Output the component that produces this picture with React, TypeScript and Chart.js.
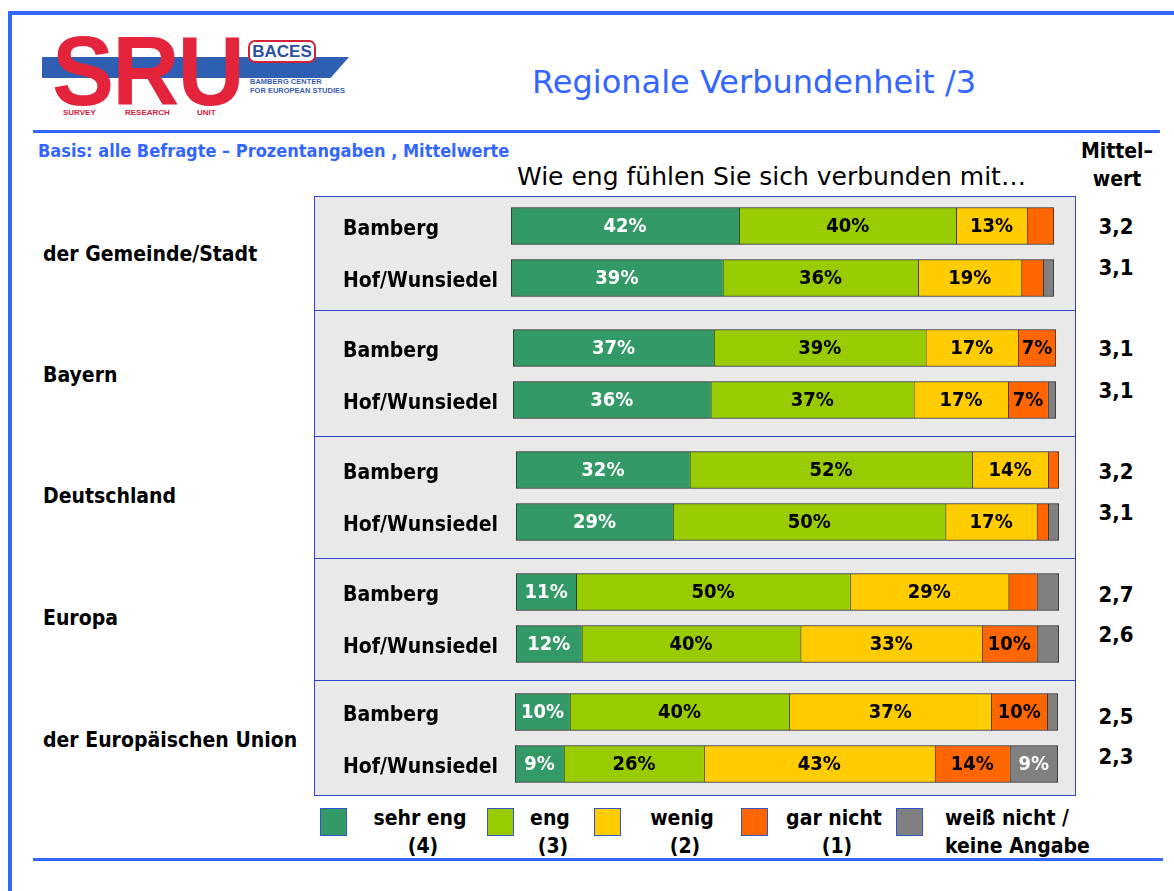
import React, { useEffect, useRef } from "react";
import { Chart, registerables } from "chart.js";

Chart.register(...registerables);

// ---------- data ----------
const groupLabels = ["der Gemeinde/Stadt", "Bayern", "Deutschland", "Europa", "der Europäischen Union"];
const rowLabels = ["Bamberg", "Hof/Wunsiedel"];
const seriesLabels = ["sehr eng", "eng", "wenig", "gar nicht", "weiß nicht /"];
const seriesSubLabels = ["(4)", "(3)", "(2)", "(1)", "keine Angabe"];

// order: Gemeinde Bamberg, Gemeinde Hof, Bayern Bamberg, Bayern Hof, Deutschland B, Deutschland H, Europa B, Europa H, EU B, EU H
const sehrEng = [42, 39, 37, 36.4, 32, 28.9, 11.1, 12.1, 10.1, 9];
const eng = [40, 36, 39, 37.4, 52, 50.2, 50.4, 40.3, 40.4, 25.8];
const wenig = [13, 19, 17, 17.4, 14, 16.8, 29.2, 33.4, 37.2, 42.5];
const garNicht = [5, 4, 7, 7.3, 2, 2.1, 5.2, 10.1, 10.3, 13.8];
const weissNicht = [0, 2, 0, 1.5, 0, 2, 4.1, 4.1, 2.0, 8.9];
const mittelwerte = [3.2, 3.1, 3.1, 3.1, 3.2, 3.1, 2.7, 2.6, 2.5, 2.3];

const seriesValues = [sehrEng, eng, wenig, garNicht, weissNicht];

// ---------- styles ----------
const FONT = "'DejaVu Sans Condensed', 'DejaVu Sans', sans-serif";
const WIDE = "'DejaVu Sans', sans-serif";
const BLUE = "#3366ff";
const seriesColors = ["#339966", "#99cc00", "#ffcc00", "#ff6600", "#808080"];
const labelColors = ["#ffffff", "#000000", "#000000", "#000000", "#ffffff"];
const chartTops = [200, 322, 444, 566, 686];
const axisWidths = [168, 170, 173, 173, 172];
const chartLeft = 343;
const panelDividers = [310, 436, 558, 680];
const groupLabelY = [255, 376, 497, 619, 741];
const meanY = [227, 268, 349, 391, 472, 513, 595, 635, 717, 757];
const legendBoxX = [320, 487, 594, 741, 896];
const legendTextX = [420, 550, 682, 834, 945];

const segLabelPlugin = {
  id: "segLabels",
  afterDatasetsDraw(chart: any) {
    const ctx = chart.ctx;
    ctx.save();
    chart.data.datasets.forEach((ds: any, di: number) => {
      const meta = chart.getDatasetMeta(di);
      meta.data.forEach((bar: any, i: number) => {
        const v = ds.data[i];
        if (Math.round(v) < 6) return;
        const p = bar.getProps(["x", "y", "base"], true);
        ctx.fillStyle = labelColors[di];
        ctx.font = `bold 20px ${FONT}`;
        ctx.textAlign = "center";
        ctx.textBaseline = "middle";
        ctx.fillText(Math.round(v) + "%", (p.x + p.base) / 2, p.y + 1);
      });
    });
    ctx.restore();
  },
};

function GroupChart({ g }: { g: number }) {
  const ref = useRef<HTMLCanvasElement>(null);
  useEffect(() => {
    if (!ref.current) return;
    const idx = [g * 2, g * 2 + 1];
    const lastNonZero = idx.map((r) => {
      let last = 0;
      seriesValues.forEach((s, si) => {
        if (s[r] > 0) last = si;
      });
      return last;
    });
    const chart = new Chart(ref.current, {
      type: "bar",
      data: {
        labels: rowLabels,
        datasets: seriesValues.map((s, si) => ({
          label: seriesLabels[si],
          data: idx.map((r) => s[r]),
          backgroundColor: seriesColors[si],
          borderColor: "#222222",
          borderWidth: (c: any) => ({
            top: 1,
            bottom: 1,
            left: 1,
            right: lastNonZero[c.dataIndex] === si ? 1 : 0,
          }),
          borderSkipped: false,
          barThickness: 37,
        })),
      },
      options: {
        indexAxis: "y",
        responsive: false,
        animation: false,
        layout: { padding: 0 },
        plugins: { legend: { display: false }, tooltip: { enabled: false } },
        scales: {
          x: { stacked: true, min: 0, max: 100, display: false },
          y: {
            stacked: true,
            grid: { display: false },
            border: { display: false },
            ticks: {
              crossAlign: "far",
              labelOffset: 4,
              color: "#000",
              font: { family: FONT, size: 21, weight: "bold" },
            },
            afterFit: (scale: any) => {
              scale.width = axisWidths[g];
              scale.paddingTop = 0;
              scale.paddingBottom = 0;
            },
          },
        },
      } as any,
      plugins: [segLabelPlugin],
    });
    return () => chart.destroy();
  }, [g]);
  return (
    <canvas
      ref={ref}
      width={axisWidths[g] + 543}
      height={104}
      style={{ position: "absolute", left: chartLeft, top: chartTops[g], width: axisWidths[g] + 543, height: 104 }}
    />
  );
}

function Txt({ x, y, size, children, color = "#000", weight = "bold", anchor = "left", family = FONT, extra = {} }: any) {
  const style: any = {
    position: "absolute",
    top: y - size * 0.65,
    height: size * 1.3,
    lineHeight: size * 1.3 + "px",
    fontSize: size,
    fontFamily: family,
    fontWeight: weight,
    color,
    whiteSpace: "nowrap",
    ...extra,
  };
  style.left = x;
  if (anchor !== "left") style.transform = "translateX(-50%)";
  return <div style={style}>{children}</div>;
}

const logoFont = "'Liberation Sans', Arial, sans-serif";

export default function App() {
  return (
    <div style={{ position: "absolute", left: 0, top: 0, width: 1174, height: 891, background: "#fff", overflow: "hidden", fontFamily: FONT }}>
      {/* frame lines */}
      <div style={{ position: "absolute", left: 8, top: 11, width: 1166, height: 4, background: BLUE }} />
      <div style={{ position: "absolute", left: 8, top: 11, width: 4, height: 880, background: BLUE }} />
      <div style={{ position: "absolute", left: 33, top: 130, width: 1127, height: 3, background: BLUE }} />
      <div style={{ position: "absolute", left: 33, top: 858, width: 1130, height: 3, background: BLUE }} />

      {/* logo */}
      <div style={{ position: "absolute", left: 42, top: 57, width: 307, height: 21, background: "#2f5fb3", clipPath: "polygon(0 0, 100% 0, 94% 100%, 0 100%)" }} />
      <div style={{ position: "absolute", left: 52, top: 22, fontFamily: logoFont, fontWeight: "bold", fontSize: 98, lineHeight: "98px", color: "#e3243b", transform: "scaleX(0.95)", transformOrigin: "left top", letterSpacing: -2 }}>SRU</div>
      <div style={{ position: "absolute", left: 248, top: 40, width: 64, height: 19, border: "2px solid #d0233a", borderRadius: 7, background: "#fff", color: "#2c4fa3", fontFamily: logoFont, fontWeight: "bold", fontSize: 17, lineHeight: "19px", textAlign: "center" }}>BACES</div>
      <div style={{ position: "absolute", left: 250, top: 77, fontFamily: logoFont, fontWeight: "bold", fontSize: 7.5, lineHeight: "9px", color: "#3a5fb0" }}>BAMBERG CENTER<br />FOR EUROPEAN STUDIES</div>
      <div style={{ position: "absolute", left: 63, top: 108, fontFamily: logoFont, fontWeight: "bold", fontSize: 8, color: "#d0233a" }}>SURVEY</div>
      <div style={{ position: "absolute", left: 125, top: 108, fontFamily: logoFont, fontWeight: "bold", fontSize: 8, color: "#d0233a" }}>RESEARCH</div>
      <div style={{ position: "absolute", left: 197, top: 108, fontFamily: logoFont, fontWeight: "bold", fontSize: 8, color: "#d0233a" }}>UNIT</div>

      {/* titles */}
      <Txt x={532} y={83} size={32} color={BLUE} weight="normal" family={WIDE}>Regionale Verbundenheit  /3</Txt>
      <Txt x={38} y={151} size={18} color={BLUE} weight="bold">Basis: alle Befragte – Prozentangaben , Mittelwerte</Txt>
      <Txt x={517} y={177} size={25} weight="normal" family={WIDE}>Wie eng fühlen Sie sich verbunden mit…</Txt>
      <Txt x={1117} y={152} size={21} anchor="center">Mittel–</Txt>
      <Txt x={1117} y={180} size={21} anchor="center">wert</Txt>

      {/* panel */}
      <div style={{ position: "absolute", left: 314, top: 196, width: 760, height: 598, background: "#e9e9e9", border: "1px solid #3344cc" }} />
      {panelDividers.map((y, i) => (
        <div key={i} style={{ position: "absolute", left: 314, top: y, width: 762, height: 1, background: "#3344cc" }} />
      ))}

      {groupLabels.map((l, g) => (
        <Txt key={l} x={43} y={groupLabelY[g]} size={21}>{l}</Txt>
      ))}

      {groupLabels.map((_, g) => (
        <GroupChart key={g} g={g} />
      ))}

      {mittelwerte.map((m, i) => (
        <Txt key={i} x={1116} y={meanY[i]} size={22} anchor="center">{m.toFixed(1).replace(".", ",")}</Txt>
      ))}

      {/* legend */}
      {seriesLabels.map((s, i) => (
        <React.Fragment key={s}>
          <div style={{ position: "absolute", left: legendBoxX[i], top: 808, width: 25, height: 26, background: seriesColors[i], border: "1px solid #3355cc" }} />
          <Txt x={legendTextX[i]} y={819} size={21} anchor={i === 4 ? "left" : "center"}>{s}</Txt>
          <Txt x={legendTextX[i] + (i === 4 ? 0 : 3)} y={847} size={21} anchor={i === 4 ? "left" : "center"}>{seriesSubLabels[i]}</Txt>
        </React.Fragment>
      ))}
    </div>
  );
}
